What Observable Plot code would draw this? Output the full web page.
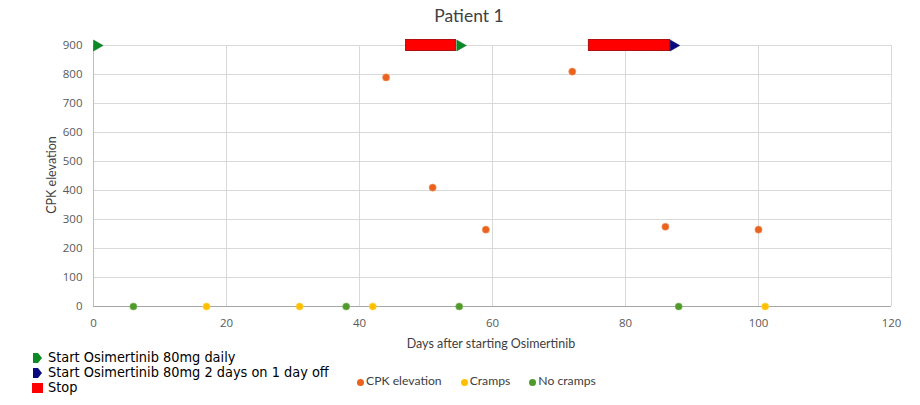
<!DOCTYPE html>
<html>
<head>
<meta charset="utf-8">
<script src="https://cdn.jsdelivr.net/npm/d3@7"></script>
<script src="https://cdn.jsdelivr.net/npm/@observablehq/plot@0.6"></script>
<style>
  html, body { margin: 0; padding: 0; background: #fff; }
  #wrap { position: relative; width: 920px; height: 405px; overflow: hidden; }
  .ov { position: absolute; white-space: nowrap; }
  #title { left: 0; width: 938px; top: 5px; text-align: center; font-family: Lato, "Open Sans", sans-serif; font-size: 17.5px; color: #404040; }
  #xlab { left: 0; width: 982px; top: 336px; text-align: center; font-family: Lato, "Open Sans", sans-serif; font-size: 12.5px; color: #404040; }
  #ylab { left: 51px; top: 175px; transform: translate(-50%, -50%) rotate(-90deg); font-family: Lato, "Open Sans", sans-serif; font-size: 12.5px; color: #404040; }
  #leg1 { left: 31px; top: 350px; font-family: "DejaVu Sans Condensed", "DejaVu Sans", sans-serif; font-size: 14.4px; color: #000; line-height: 15px; }
  #leg1 .row { display: flex; align-items: center; height: 15px; }
  #leg2 { left: 357px; top: 373px; font-family: Lato, "Open Sans", sans-serif; font-size: 12.2px; color: #404040; display: flex; align-items: center; }
  #leg2 .it { display: flex; align-items: center; margin-right: 19px; }
  #leg2 .d { width: 7px; height: 7px; border-radius: 50%; margin-right: 2px; margin-top: 3px; }
</style>
</head>
<body>
<div id="wrap">
  <div id="chart"></div>
  <div class="ov" id="title">Patient 1</div>
  <div class="ov" id="xlab">Days after starting Osimertinib</div>
  <div class="ov" id="ylab">CPK elevation</div>
  <div class="ov" id="leg1"></div>
  <div class="ov" id="leg2"></div>
</div>
<script>
// ---- data ----
const cpkDays   = [44, 51, 59, 72, 86, 100];
const cpkValues = [790, 410, 265, 810, 275, 265];
const crampDays = [17, 31, 42, 101];
const noCrampDays = [6, 38, 55, 88];
const stopStart = [47, 74.5];
const stopEnd   = [54.5, 86.7];
const stopLevel = 900;
const dailyStartDays = [0.48, 55.1];
const altStartDays   = [87.2];
const xTicks = [0, 20, 40, 60, 80, 100, 120];
const yTicks = [0, 100, 200, 300, 400, 500, 600, 700, 800, 900];

const colors = {
  cpk: "#E9631E",
  cramps: "#FFC000",
  noCramps: "#4F9A2B",
  daily: "#0A8A24",
  alt: "#0A0A80",
  stop: "#FF0000"
};

// ---- tables ----
const cpk = cpkDays.map((d, i) => ({day: d, value: cpkValues[i]}));
const cramps = crampDays.map(d => ({day: d, value: 0}));
const noCramps = noCrampDays.map(d => ({day: d, value: 0}));
const stops = stopStart.map((s, i) => ({x1: s, x2: stopEnd[i], y: stopLevel}));
const daily = dailyStartDays.map(d => ({day: d, value: stopLevel}));
const alt = altStartDays.map(d => ({day: d, value: stopLevel}));

const chart = Plot.plot({
  width: 920,
  height: 405,
  marginLeft: 93,
  marginRight: 29,
  marginTop: 45,
  marginBottom: 99,
  style: {fontFamily: "'Open Sans', sans-serif", fontSize: "11.5px", color: "#595959", background: "transparent", overflow: "visible"},
  x: {domain: [0, 120], ticks: xTicks},
  y: {domain: [0, 900], ticks: yTicks},
  marks: [
    Plot.gridX(xTicks.filter(t => t > 0), {stroke: "#d9d9d9", strokeOpacity: 1}),
    Plot.gridY(yTicks.filter(t => t > 0), {stroke: "#d9d9d9", strokeOpacity: 1}),
    Plot.ruleX([0], {stroke: "#bfbfbf"}),
    Plot.ruleY([0], {stroke: "#a6a6a6", strokeWidth: 1.2}),
    Plot.axisX(xTicks, {tickSize: 0, tickPadding: 12, label: null, fill: "#595959"}),
    Plot.axisY(yTicks, {tickSize: 0, tickPadding: 11, label: null, fill: "#595959"}),
    Plot.rect(stops, {x1: "x1", x2: "x2", y1: "y", y2: "y", insetTop: -5.5, insetBottom: -5.5, fill: colors.stop, stroke: "#b01010", strokeWidth: 1}),
    Plot.dot(daily, {x: "day", y: "value", symbol: "triangle", rotate: 90, r: 4.1, fill: colors.daily, stroke: "#0d6b1d", strokeWidth: 0.5}),
    Plot.dot(alt, {x: "day", y: "value", symbol: "triangle", rotate: 90, r: 4.1, fill: colors.alt, stroke: "#050550", strokeWidth: 0.5}),
    Plot.dot(cpk, {x: "day", y: "value", r: 3.6, fill: colors.cpk, stroke: "#f3a070", strokeWidth: 0.6}),
    Plot.dot(cramps, {x: "day", y: "value", r: 3.6, fill: colors.cramps, stroke: "#ffd966", strokeWidth: 0.6}),
    Plot.dot(noCramps, {x: "day", y: "value", r: 3.6, fill: colors.noCramps, stroke: "#8cbf6a", strokeWidth: 0.6})
  ]
});
document.getElementById("chart").appendChild(chart);

// ---- legends ----
const leg1Items = [
  {label: "Start Osimertinib 80mg daily", color: colors.daily, shape: "tri"},
  {label: "Start Osimertinib 80mg 2 days on 1 day off", color: colors.alt, shape: "tri"},
  {label: "Stop", color: colors.stop, shape: "sq"}
];
const leg1 = document.getElementById("leg1");
leg1Items.forEach(it => {
  const row = document.createElement("div");
  row.className = "row";
  const svgNS = "http://www.w3.org/2000/svg";
  const s = document.createElementNS(svgNS, "svg");
  s.setAttribute("width", 17); s.setAttribute("height", 12);
  if (it.shape === "tri") {
    const p = document.createElementNS(svgNS, "path");
    p.setAttribute("d", "M2,1 L7,1 L11,6 L7,11 L2,11 Z");
    p.setAttribute("fill", it.color);
    s.appendChild(p);
  } else {
    const r = document.createElementNS(svgNS, "rect");
    r.setAttribute("x", 1); r.setAttribute("y", 1); r.setAttribute("width", 11); r.setAttribute("height", 10);
    r.setAttribute("fill", it.color);
    s.appendChild(r);
  }
  row.appendChild(s);
  const t = document.createElement("span");
  t.textContent = it.label;
  row.appendChild(t);
  leg1.appendChild(row);
});

const leg2Items = [
  {label: "CPK elevation", color: colors.cpk},
  {label: "Cramps", color: colors.cramps},
  {label: "No cramps", color: colors.noCramps}
];
const leg2 = document.getElementById("leg2");
leg2Items.forEach(it => {
  const d = document.createElement("div");
  d.className = "it";
  const dot = document.createElement("span");
  dot.className = "d";
  dot.style.background = it.color;
  d.appendChild(dot);
  const t = document.createElement("span");
  t.textContent = it.label;
  d.appendChild(t);
  leg2.appendChild(d);
});
</script>
</body>
</html>
